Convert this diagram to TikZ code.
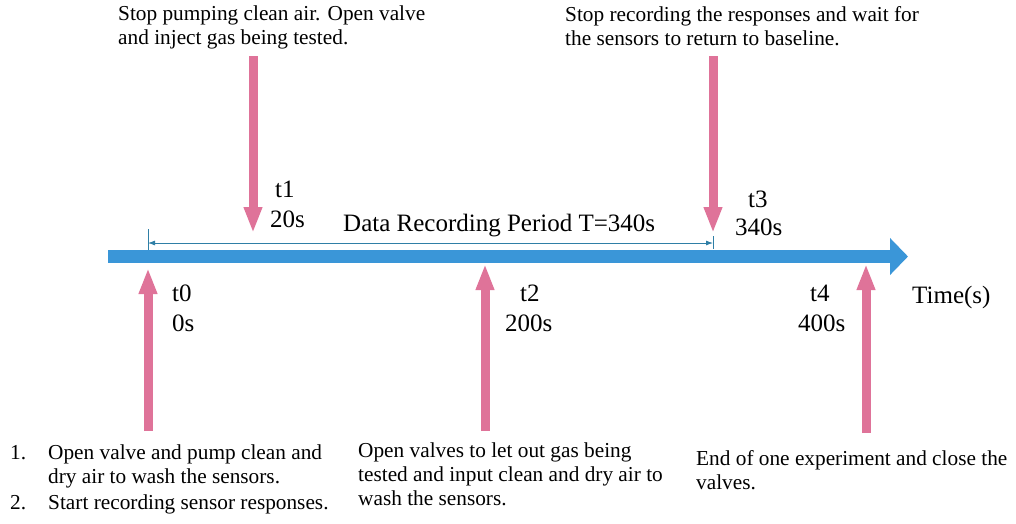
\documentclass[tikz,border=0pt]{standalone}
\usepackage{fontspec}
\setmainfont{Liberation Serif}
\usetikzlibrary{arrows.meta}
\definecolor{barblue}{HTML}{3A96D8}
\definecolor{pinkarrow}{HTML}{DF7399}
\definecolor{dimblue}{HTML}{2F7FA6}
\tikzset{
  note/.style={font=\fontsize{21.3}{24}\selectfont, align=left, inner sep=0pt, anchor=north west},
  lbl/.style={font=\fontsize{25}{30}\selectfont, inner sep=0pt, anchor=base west},
  pinkarr/.style={draw=pinkarrow, line width=9pt, -{Triangle[width=17pt,length=26pt]}},
  timeline/.style={draw=barblue, line width=13pt, -{Triangle[width=36pt,length=18pt]}},
  dimline/.style={draw=dimblue, line width=0.8pt},
}
\begin{document}
\begin{tikzpicture}[x=1pt,y=-1pt]
\useasboundingbox (0,0) rectangle (1016,523);
% coordinates
\coordinate (tlstart) at (108,256.5);
\coordinate (tlend) at (908,256.5);
\coordinate (a1top) at (253,56);
\coordinate (a1tip) at (253,233);
\coordinate (a3top) at (713,56);
\coordinate (a3tip) at (713,233);
\coordinate (a0bot) at (148,431);
\coordinate (a0tip) at (148,268);
\coordinate (a2bot) at (485,431);
\coordinate (a2tip) at (485,264);
\coordinate (a4bot) at (866,433);
\coordinate (a4tip) at (866,264);
\coordinate (dimL) at (148,243);
\coordinate (dimR) at (713,243);
\coordinate (tickLtop) at (148,229);
\coordinate (tickLbot) at (148,250);
\coordinate (tickRtop) at (713,236);
\coordinate (tickRbot) at (713,249);
% main timeline
\draw[timeline] (tlstart) -- (tlend);
% dimension line
\draw[dimline] (tickLtop) -- (tickLbot);
\draw[dimline] (tickRtop) -- (tickRbot);
\draw[dimline, {Latex[length=7pt,width=5pt]}-{Latex[length=7pt,width=5pt]}] (dimL) -- (dimR);
% pink arrows
\draw[pinkarr] (a1top) -- (a1tip);
\draw[pinkarr] (a3top) -- (a3tip);
\draw[pinkarr] (a0bot) -- (a0tip);
\draw[pinkarr] (a2bot) -- (a2tip);
\draw[pinkarr] (a4bot) -- (a4tip);
% labels
\node[lbl] (t1) at (275,197) {t1};
\node[lbl] (t1s) at (270,227) {20s};
\node[lbl] (t3) at (748,207) {t3};
\node[lbl] (t3s) at (735,235) {340s};
\node[lbl] (t0) at (172,301) {t0};
\node[lbl] (t0s) at (172,331) {0s};
\node[lbl] (t2) at (520,301) {t2};
\node[lbl] (t2s) at (505,331) {200s};
\node[lbl] (t4) at (810,301) {t4};
\node[lbl] (t4s) at (798,331) {400s};
\node[lbl] (timelbl) at (912,303) {Time(s)};
\node[lbl] (period) at (343,231) {Data Recording Period T=340s};
% notes
\node[note] (topleft) at (118,6) {Stop pumping clean air. Open valve\\and inject gas being tested.};
\node[note] (topright) at (565,6) {Stop recording the responses and wait for\\the sensors to return to baseline.};
\node[note] (num1) at (10,445) {1.};
\node[note] (num2) at (10,495) {2.};
\node[note] (botleft) at (48,445) {Open valve and pump clean and\\dry air to wash the sensors.};
\node[note] (botleft2) at (48,495) {Start recording sensor responses.};
\node[note] (botmid) at (358,443) {Open valves to let out gas being\\tested and input clean and dry air to\\wash the sensors.};
\node[note] (botright) at (696,450) {End of one experiment and close the\\valves.};
\end{tikzpicture}
\end{document}
